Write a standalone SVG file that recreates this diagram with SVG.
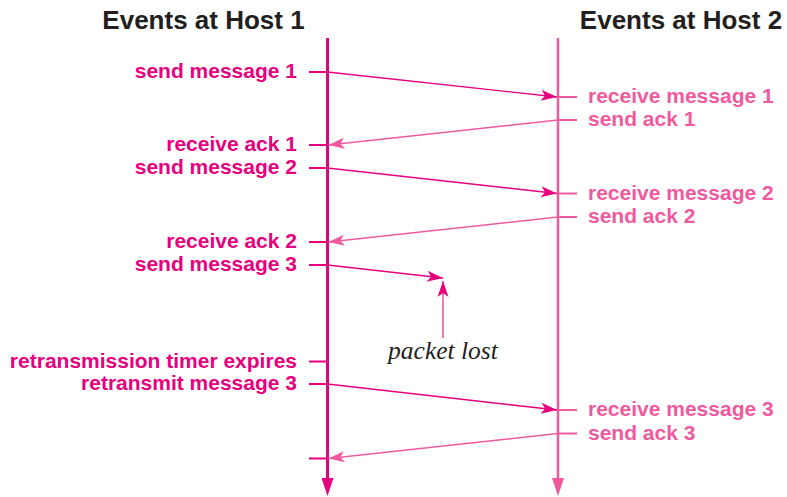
<svg xmlns="http://www.w3.org/2000/svg" width="787" height="497" viewBox="0 0 787 497">
<style>
text{font-family:"Liberation Sans",Arial,sans-serif;font-weight:bold;font-size:21px}
.title{font-size:26px;fill:#231f20}
.h1{fill:#E6007E}
.h2{fill:#EF5A9E}
.l1{stroke:#E6007E;fill:none}
.l2{stroke:#EF5A9E;fill:none}
.lost{font-family:"Liberation Serif","Times New Roman",serif;font-style:italic;font-weight:normal;font-size:25.5px;fill:#231f20}
</style>
<defs>
<marker id="a1" markerUnits="userSpaceOnUse" markerWidth="20" markerHeight="14" refX="0" refY="0" viewBox="-17 -7 20 14" orient="auto">
<path d="M0,0 L-16,-5.5 L-12,0 L-16,5.5 Z" fill="#E6007E"/>
</marker>
<marker id="a2" markerUnits="userSpaceOnUse" markerWidth="20" markerHeight="14" refX="0" refY="0" viewBox="-17 -7 20 14" orient="auto">
<path d="M0,0 L-16,-5.5 L-12,0 L-16,5.5 Z" fill="#EF5A9E"/>
</marker>
</defs>

<g id="host1">
<text class="title" x="203.5" y="29" text-anchor="middle">Events at Host 1</text>
<line class="l1" x1="327.5" y1="38" x2="327.5" y2="480" stroke-width="3"/>
<polygon points="321.5,478 333.5,478 327.5,496" fill="#E6007E"/>
</g>
<g id="host2">
<text class="title" x="681" y="29" text-anchor="middle">Events at Host 2</text>
<line class="l2" x1="558" y1="38" x2="558" y2="480" stroke-width="2.5"/>
<polygon points="552,478 564,478 558,496" fill="#EF5A9E"/>
</g>

<g id="host1-events">
<g id="e-send1"><line class="l1" x1="309" y1="72" x2="327" y2="72" stroke-width="2"/><text class="h1" x="297" y="78" text-anchor="end">send message 1</text></g>
<g id="e-rack1"><line class="l1" x1="309" y1="145" x2="327" y2="145" stroke-width="2"/><text class="h1" x="297" y="151" text-anchor="end">receive ack 1</text></g>
<g id="e-send2"><line class="l1" x1="309" y1="168" x2="327" y2="168" stroke-width="2"/><text class="h1" x="297" y="174" text-anchor="end">send message 2</text></g>
<g id="e-rack2"><line class="l1" x1="309" y1="242" x2="327" y2="242" stroke-width="2"/><text class="h1" x="297" y="248" text-anchor="end">receive ack 2</text></g>
<g id="e-send3"><line class="l1" x1="309" y1="265" x2="327" y2="265" stroke-width="2"/><text class="h1" x="297" y="271" text-anchor="end">send message 3</text></g>
<g id="e-timer"><line class="l1" x1="309" y1="361.5" x2="327" y2="361.5" stroke-width="2"/><text class="h1" x="297" y="367.5" text-anchor="end">retransmission timer expires</text></g>
<g id="e-retx"><line class="l1" x1="309" y1="384" x2="327" y2="384" stroke-width="2"/><text class="h1" x="297" y="390" text-anchor="end">retransmit message 3</text></g>
<g id="e-rack3"><line class="l1" x1="309" y1="458.5" x2="327" y2="458.5" stroke-width="2"/></g>
</g>

<g id="host2-events">
<g id="e-rmsg1"><line class="l2" x1="558" y1="97" x2="577" y2="97" stroke-width="2"/><text class="h2" x="588" y="103">receive message 1</text></g>
<g id="e-sack1"><line class="l2" x1="558" y1="120" x2="577" y2="120" stroke-width="2"/><text class="h2" x="588" y="126">send ack 1</text></g>
<g id="e-rmsg2"><line class="l2" x1="558" y1="193.5" x2="577" y2="193.5" stroke-width="2"/><text class="h2" x="588" y="199.5">receive message 2</text></g>
<g id="e-sack2"><line class="l2" x1="558" y1="217" x2="577" y2="217" stroke-width="2"/><text class="h2" x="588" y="223">send ack 2</text></g>
<g id="e-rmsg3"><line class="l2" x1="558" y1="410" x2="577" y2="410" stroke-width="2"/><text class="h2" x="588" y="416">receive message 3</text></g>
<g id="e-sack3"><line class="l2" x1="558" y1="433.5" x2="577" y2="433.5" stroke-width="2"/><text class="h2" x="588" y="439.5">send ack 3</text></g>
</g>

<g id="lost-note">
<text class="lost" x="443" y="359" text-anchor="middle">packet lost</text>
</g>

<g id="connectors" stroke-width="1.4">
<line class="l1" x1="327.5" y1="72" x2="557" y2="97" marker-end="url(#a1)"/>
<line class="l2" x1="558" y1="120" x2="328.5" y2="145" marker-end="url(#a2)"/>
<line class="l1" x1="327.5" y1="168" x2="557" y2="193.5" marker-end="url(#a1)"/>
<line class="l2" x1="558" y1="217" x2="328.5" y2="242" marker-end="url(#a2)"/>
<line class="l1" x1="327.5" y1="265" x2="443" y2="278" marker-end="url(#a1)"/>
<line class="l2" x1="443" y1="338" x2="443" y2="281" stroke-width="1.6" marker-end="url(#a1)"/>
<line class="l1" x1="327.5" y1="384" x2="557" y2="410" marker-end="url(#a1)"/>
<line class="l2" x1="558" y1="433.5" x2="328.5" y2="458.5" marker-end="url(#a2)"/>
</g>
</svg>
